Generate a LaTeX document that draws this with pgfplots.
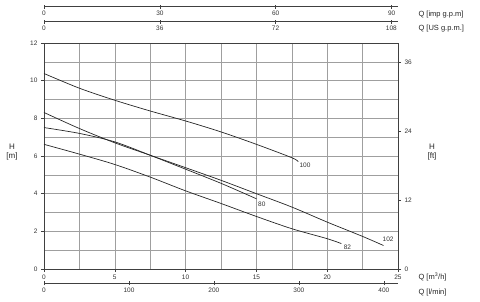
\documentclass[border=0pt]{standalone}
\usepackage{pgfplots}
\pgfplotsset{compat=1.18}
\usepackage{fontspec}
\setmainfont{Liberation Sans}
\begin{document}
\begin{tikzpicture}[font=\fontsize{7.5}{9}\selectfont]
\pgfplotsset{every axis/.append style={scale only axis, width=354pt,
  /pgf/number format/assume math mode=true,
  tick label style={font=\fontsize{6.5}{7}\selectfont, text=black!80},
  axis line style={black!75, line width=0.6pt},
  major tick style={black!75, line width=0.5pt}}}
\path[use as bounding box] (-44pt,-32pt) rectangle (436pt,269pt);
% main axis
\begin{axis}[at={(0pt,0pt)}, anchor=south west, height=226pt,
  xmin=0, xmax=25, ymin=0, ymax=12,
  xtick={0,5,...,25}, minor xtick={2.5,7.5,...,22.5},
  ytick={0,2,...,12}, minor ytick={1,3,...,11},
  grid=both, major grid style={gray!75, line width=0.5pt},
  minor grid style={gray!75, line width=0.5pt},
  tick pos=left, tick align=outside, major tick length=3pt, minor tick length=0pt,
  xticklabel style={yshift=1pt}]
\addplot[smooth, black!85, line width=0.7pt] coordinates {(0,10.38)(2.5,9.6)(5,8.96)(7.5,8.39)(10,7.86)(12.5,7.28)(15,6.62)(17.5,5.91)(17.96,5.70)};
\addplot[smooth, black!85, line width=0.7pt] coordinates {(0,8.31)(2.5,7.46)(5,6.7)(7.5,6.04)(10,5.38)(12.5,4.71)(15,4.0)(17.5,3.29)(20,2.49)(22.5,1.73)(23.97,1.25)};
\addplot[smooth, black!85, line width=0.7pt] coordinates {(0,7.51)(2.5,7.2)(5,6.75)(7.5,6.04)(10,5.30)(12.5,4.55)(15,3.73)};
\addplot[smooth, black!85, line width=0.7pt] coordinates {(0,6.62)(2.5,6.1)(5,5.55)(7.5,4.88)(10,4.15)(12.5,3.48)(15,2.79)(17.5,2.14)(20,1.61)(21,1.35)};
\node[font=\fontsize{6.5}{7}\selectfont, text=black!80] at (axis cs:18.43,5.52) {100};
\node[font=\fontsize{6.5}{7}\selectfont, text=black!80] at (axis cs:15.38,3.45) {80};
\node[font=\fontsize{6.5}{7}\selectfont, text=black!80] at (axis cs:24.3,1.57) {102};
\node[font=\fontsize{6.5}{7}\selectfont, text=black!80] at (axis cs:21.43,1.17) {82};
\end{axis}
% right ft axis
\begin{axis}[at={(0pt,0pt)}, anchor=south west, height=226pt,
  xmin=0, xmax=25, ymin=0, ymax=39.37,
  axis x line=none, axis y line*=right, y axis line style={-},
  ytick={0,12,24,36}, tick align=outside, major tick length=3pt]
\end{axis}
% top imp gpm axis
\begin{axis}[at={(0pt,262.3pt)}, anchor=south west, height=1pt,
  xmin=0, xmax=91.65, ymin=0, ymax=1,
  axis x line*=bottom, x axis line style={-}, axis y line=none,
  xtick={0,30,60,90}, tick align=center, major tick length=4pt,
  xticklabel style={yshift=1pt}]
\end{axis}
% top US gpm axis
\begin{axis}[at={(0pt,247.3pt)}, anchor=south west, height=1pt,
  xmin=0, xmax=110.07, ymin=0, ymax=1,
  axis x line*=bottom, x axis line style={-}, axis y line=none,
  xtick={0,36,72,108}, tick align=center, major tick length=4pt,
  xticklabel style={yshift=1pt}]
\end{axis}
% bottom l/min axis
\begin{axis}[at={(0pt,-14.3pt)}, anchor=south west, height=1pt,
  xmin=0, xmax=416.67, ymin=0, ymax=1,
  axis x line*=bottom, x axis line style={-}, axis y line=none,
  xtick={0,100,...,400}, tick align=center, major tick length=4pt,
  xticklabel style={yshift=1pt}]
\end{axis}
\node[anchor=west, text=black!85] at (371pt,254pt) {Q [imp g.p.m]};
\node[anchor=west, text=black!85] at (371pt,240pt) {Q [US g.p.m.]};
\node[anchor=west, text=black!85] at (371pt,-8pt) {Q [m\textsuperscript{3}/h]};
\node[anchor=west, text=black!85] at (371pt,-24pt) {Q [l/min]};
\node[align=center, text=black!85, font=\fontsize{8}{9}\selectfont] at (-32pt,117pt) {H\\{}[m]};
\node[align=center, text=black!85, font=\fontsize{8}{9}\selectfont] at (388pt,117pt) {H\\{}[ft]};
\end{tikzpicture}
\end{document}
